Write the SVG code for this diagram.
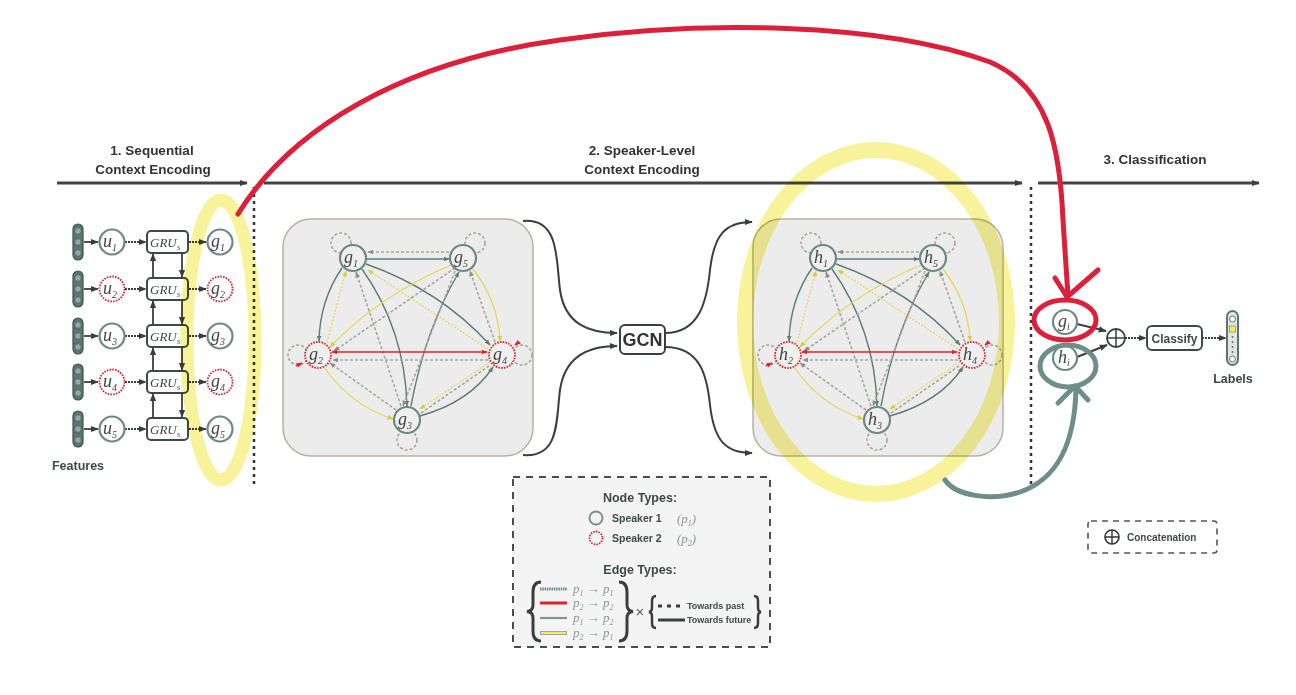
<svg xmlns="http://www.w3.org/2000/svg" xmlns:xlink="http://www.w3.org/1999/xlink" width="1296" height="695" viewBox="0 0 1296 695">
<defs>
<style>
.hd{font-family:"Liberation Sans",Arial,sans-serif;font-weight:bold;font-size:13.5px;fill:#333;text-anchor:middle}
.it{font-family:"Liberation Serif","Times New Roman",serif;font-style:italic;font-size:18px;fill:#444}
.sub{font-size:10px}
.gru{font-family:"Liberation Serif","Times New Roman",serif;font-style:italic;font-size:13px;fill:#444}
.s1{fill:#efefef;stroke:#6c8a83;stroke-width:2.2}
.s2{fill:#efefef;stroke:#d9232b;stroke-width:1.8;stroke-dasharray:1.6 1.2}
.flow{fill:none;stroke:#3a3f3d;stroke-width:2}
.et{fill:none;stroke:#5e7e77;stroke-width:1.4}
.eg{fill:none;stroke:#a9a79c;stroke-width:1.6;stroke-dasharray:3 2}
.ey{fill:none;stroke:#e2db55;stroke-width:1.3}
.eyd{fill:none;stroke:#e2db55;stroke-width:1.3;stroke-dasharray:2 1.5}
.er{fill:none;stroke:#e0232b;stroke-width:1.6}
.lg{font-family:"Liberation Sans",Arial,sans-serif;font-weight:bold;fill:#3f4a47}
.pt{font-family:"Liberation Serif","Times New Roman",serif;font-style:italic;font-size:13px;fill:#8d9794}
.hl{fill:none;stroke:#f8f39a;mix-blend-mode:multiply}
</style>
<marker id="ad" viewBox="0 0 10 10" refX="9" refY="5" markerUnits="userSpaceOnUse" markerWidth="8" markerHeight="8" orient="auto"><path d="M0,1 L10,5 L0,9z" fill="#3a3f3d"/></marker>
<marker id="at" viewBox="0 0 10 10" refX="9" refY="5" markerUnits="userSpaceOnUse" markerWidth="6" markerHeight="6" orient="auto-start-reverse"><path d="M0,1 L10,5 L0,9z" fill="#5e7e77"/></marker>
<marker id="ag" viewBox="0 0 10 10" refX="9" refY="5" markerUnits="userSpaceOnUse" markerWidth="6" markerHeight="6" orient="auto-start-reverse"><path d="M0,1 L10,5 L0,9z" fill="#8f8d82"/></marker>
<marker id="ay" viewBox="0 0 10 10" refX="9" refY="5" markerUnits="userSpaceOnUse" markerWidth="6" markerHeight="6" orient="auto-start-reverse"><path d="M0,1 L10,5 L0,9z" fill="#d6ce3e"/></marker>
<marker id="ar" viewBox="0 0 10 10" refX="9" refY="5" markerUnits="userSpaceOnUse" markerWidth="6" markerHeight="6" orient="auto-start-reverse"><path d="M0,1 L10,5 L0,9z" fill="#e0232b"/></marker>
<g id="panel">
<rect x="283" y="219" width="250" height="237" rx="28" fill="#ececec" stroke="#b8b2a6" stroke-width="1.5"/>
<circle cx="341" cy="243" r="10" class="eg"/>
<circle cx="475" cy="243" r="10" class="eg"/>
<circle cx="298" cy="355" r="10" class="eg"/>
<circle cx="522" cy="355" r="10" class="eg"/>
<circle cx="407" cy="440" r="10" class="eg"/>
<path d="M296,366 L302,363" class="er" marker-end="url(#ar)"/>
<path d="M519,342 L515,345" class="er" marker-end="url(#ar)"/>
<path d="M449,252 L368,252" class="eg" marker-end="url(#ag)"/>
<path d="M367,259 L449,259" class="et" marker-end="url(#at)"/>
<path d="M342,268 Q320,300 319,341" class="et" marker-end="url(#at)"/>
<path d="M327,342 L346,271" class="eyd" marker-end="url(#ay)"/>
<path d="M401,406 L356,272" class="eg" marker-end="url(#ag)"/>
<path d="M362,269 Q405,330 407,406" class="et" marker-end="url(#at)"/>
<path d="M366,264 Q440,290 490,345" class="et" marker-end="url(#at)"/>
<path d="M488,349 L368,270" class="eyd" marker-end="url(#ay)"/>
<path d="M451,265 Q380,295 330,347" class="ey" marker-end="url(#ay)"/>
<path d="M455,268 L334,351" class="eg" marker-end="url(#ag)"/>
<path d="M411,406 Q425,330 459,272" class="et" marker-end="url(#at)"/>
<path d="M455,271 L403,406" class="eg" marker-end="url(#ag)"/>
<path d="M472,268 Q498,300 500,341" class="ey" marker-end="url(#ay)"/>
<path d="M495,342 L470,271" class="eg" marker-end="url(#ag)"/>
<path d="M332,352 L487,352" class="er" marker-start="url(#ar)" marker-end="url(#ar)"/>
<path d="M488,360 L333,360" class="eg" marker-end="url(#ag)"/>
<path d="M324,367 Q350,405 393,419" class="ey" marker-end="url(#ay)"/>
<path d="M396,410 L330,363" class="eg" marker-end="url(#ag)"/>
<path d="M420,416 Q470,402 493,367" class="et" marker-end="url(#at)"/>
<path d="M490,362 L420,409" class="eyd" marker-end="url(#ay)"/>
<path d="M421,413 L489,366" class="eg"/>
</g>
</defs>

<g id="headers">
<text class="hd" x="152" y="155">1. Sequential</text>
<text class="hd" x="153" y="174">Context Encoding</text>
<text class="hd" x="642" y="155">2. Speaker-Level</text>
<text class="hd" x="642" y="174">Context Encoding</text>
<text class="hd" x="1155" y="164">3. Classification</text>
</g>

<g id="connectors">
<path d="M57,183 L247,183" stroke="#444" stroke-width="3" fill="none" marker-end="url(#ad)"/>
<path d="M264,183 L1022,183" stroke="#444" stroke-width="3" fill="none" marker-end="url(#ad)"/>
<path d="M1038,183 L1259,183" stroke="#444" stroke-width="3" fill="none" marker-end="url(#ad)"/>
<path d="M254,187 L254,486" stroke="#333" stroke-width="2.5" stroke-dasharray="3 4"/>
<path d="M1031,187 L1031,485" stroke="#333" stroke-width="2.5" stroke-dasharray="3 4"/>
<g stroke="#3a3f3d" stroke-width="1.8" fill="none">
<path d="M84,242 L98,242" marker-end="url(#ad)"/>
<path d="M84,289 L98,289" marker-end="url(#ad)"/>
<path d="M84,336 L98,336" marker-end="url(#ad)"/>
<path d="M84,382 L98,382" marker-end="url(#ad)"/>
<path d="M84,429 L98,429" marker-end="url(#ad)"/>
<g stroke-dasharray="2 1">
<path d="M125,242 L146,242" marker-end="url(#ad)"/>
<path d="M125,289 L146,289" marker-end="url(#ad)"/>
<path d="M125,336 L146,336" marker-end="url(#ad)"/>
<path d="M125,382 L146,382" marker-end="url(#ad)"/>
<path d="M125,429 L146,429" marker-end="url(#ad)"/>
<path d="M189,242 L206,242" marker-end="url(#ad)"/>
<path d="M189,289 L206,289" marker-end="url(#ad)"/>
<path d="M189,336 L206,336" marker-end="url(#ad)"/>
<path d="M189,382 L206,382" marker-end="url(#ad)"/>
<path d="M189,429 L206,429" marker-end="url(#ad)"/>
</g>
<path d="M153,277 L153,254" marker-end="url(#ad)"/>
<path d="M153,324 L153,301" marker-end="url(#ad)"/>
<path d="M153,370 L153,348" marker-end="url(#ad)"/>
<path d="M153,417 L153,394" marker-end="url(#ad)"/>
<path d="M182,254 L182,277" marker-end="url(#ad)"/>
<path d="M182,301 L182,324" marker-end="url(#ad)"/>
<path d="M182,348 L182,370" marker-end="url(#ad)"/>
<path d="M182,394 L182,417" marker-end="url(#ad)"/>
</g>
<path class="flow" d="M523,221 C560,218 556,260 560,290 C565,325 590,333 617,333" marker-end="url(#ad)"/>
<path class="flow" d="M523,455 C560,458 556,420 560,390 C565,355 590,346 617,346" marker-end="url(#ad)"/>
<path class="flow" d="M665,333 C700,333 707,300 710,270 C714,235 725,222 752,222" marker-end="url(#ad)"/>
<path class="flow" d="M665,347 C700,347 707,375 710,405 C714,440 725,453 752,453" marker-end="url(#ad)"/>
<path class="flow" stroke-width="1.5" d="M1077,324 L1106,331" marker-end="url(#ad)"/>
<path class="flow" stroke-width="1.5" d="M1077,357 L1107,345" marker-end="url(#ad)"/>
<path class="flow" stroke-width="1.5" stroke-dasharray="2 1" d="M1125,338 L1146,338" marker-end="url(#ad)"/>
<path class="flow" stroke-width="1.5" stroke-dasharray="2 1" d="M1202,338 L1226,338" marker-end="url(#ad)"/>
</g>

<g id="graph1"><use xlink:href="#panel" href="#panel"/></g>
<g id="graph2"><use xlink:href="#panel" href="#panel" transform="translate(470,0)"/></g>

<g id="features" fill="#5c7771" stroke="#3f524e" stroke-width="1.2">
<rect x="73" y="224" width="10" height="36" rx="5"/><rect x="73" y="271" width="10" height="36" rx="5"/><rect x="73" y="318" width="10" height="36" rx="5"/><rect x="73" y="364" width="10" height="36" rx="5"/><rect x="73" y="411" width="10" height="36" rx="5"/>
<g fill="#93a8a3" stroke="#4c625d" stroke-width="0.8">
<circle cx="78" cy="231" r="3.3"/><circle cx="78" cy="242" r="3.3"/><circle cx="78" cy="253" r="3.3"/>
<circle cx="78" cy="278" r="3.3"/><circle cx="78" cy="289" r="3.3"/><circle cx="78" cy="300" r="3.3"/>
<circle cx="78" cy="325" r="3.3"/><circle cx="78" cy="336" r="3.3"/><circle cx="78" cy="347" r="3.3"/>
<circle cx="78" cy="371" r="3.3"/><circle cx="78" cy="382" r="3.3"/><circle cx="78" cy="393" r="3.3"/>
<circle cx="78" cy="418" r="3.3"/><circle cx="78" cy="429" r="3.3"/><circle cx="78" cy="440" r="3.3"/>
</g>
</g>
<text class="lg" x="78" y="470" font-size="12.5" text-anchor="middle">Features</text>

<g id="u1"><circle cx="112" cy="242" r="12.5" class="s1" style="fill:#fff"/><text class="it" x="103" y="247">u<tspan class="sub" dy="4">1</tspan></text></g>
<g id="u2"><circle cx="112" cy="289" r="12.5" class="s2" style="fill:#fff"/><text class="it" x="103" y="294">u<tspan class="sub" dy="4">2</tspan></text></g>
<g id="u3"><circle cx="112" cy="336" r="12.5" class="s1" style="fill:#fff"/><text class="it" x="103" y="341">u<tspan class="sub" dy="4">3</tspan></text></g>
<g id="u4"><circle cx="112" cy="382" r="12.5" class="s2" style="fill:#fff"/><text class="it" x="103" y="387">u<tspan class="sub" dy="4">4</tspan></text></g>
<g id="u5"><circle cx="112" cy="429" r="12.5" class="s1" style="fill:#fff"/><text class="it" x="103" y="434">u<tspan class="sub" dy="4">5</tspan></text></g>

<g id="gru1"><rect x="147" y="231" width="41" height="22" rx="4" fill="#fff" stroke="#3f4a47" stroke-width="2"/><text class="gru" x="150" y="246.5">GRU<tspan dy="3" font-size="7">S</tspan></text></g>
<g id="gru2"><rect x="147" y="278" width="41" height="22" rx="4" fill="#fff" stroke="#3f4a47" stroke-width="2"/><text class="gru" x="150" y="293.5">GRU<tspan dy="3" font-size="7">S</tspan></text></g>
<g id="gru3"><rect x="147" y="325" width="41" height="22" rx="4" fill="#fff" stroke="#3f4a47" stroke-width="2"/><text class="gru" x="150" y="340.5">GRU<tspan dy="3" font-size="7">S</tspan></text></g>
<g id="gru4"><rect x="147" y="371" width="41" height="22" rx="4" fill="#fff" stroke="#3f4a47" stroke-width="2"/><text class="gru" x="150" y="386.5">GRU<tspan dy="3" font-size="7">S</tspan></text></g>
<g id="gru5"><rect x="147" y="418" width="41" height="22" rx="4" fill="#fff" stroke="#3f4a47" stroke-width="2"/><text class="gru" x="150" y="433.5">GRU<tspan dy="3" font-size="7">S</tspan></text></g>

<g id="gs1"><circle cx="220" cy="242" r="12.5" class="s1" style="fill:#fff"/><text class="it" x="211" y="247">g<tspan class="sub" dy="4">1</tspan></text></g>
<g id="gs2"><circle cx="220" cy="289" r="12.5" class="s2" style="fill:#fff"/><text class="it" x="211" y="294">g<tspan class="sub" dy="4">2</tspan></text></g>
<g id="gs3"><circle cx="220" cy="336" r="12.5" class="s1" style="fill:#fff"/><text class="it" x="211" y="341">g<tspan class="sub" dy="4">3</tspan></text></g>
<g id="gs4"><circle cx="220" cy="382" r="12.5" class="s2" style="fill:#fff"/><text class="it" x="211" y="387">g<tspan class="sub" dy="4">4</tspan></text></g>
<g id="gs5"><circle cx="220" cy="429" r="12.5" class="s1" style="fill:#fff"/><text class="it" x="211" y="434">g<tspan class="sub" dy="4">5</tspan></text></g>

<g id="g1"><circle cx="353" cy="258" r="13" class="s1"/><text class="it" x="344" y="263">g<tspan class="sub" dy="4">1</tspan></text></g>
<g id="g5"><circle cx="463" cy="258" r="13" class="s1"/><text class="it" x="454" y="263">g<tspan class="sub" dy="4">5</tspan></text></g>
<g id="g2"><circle cx="318" cy="355" r="13" class="s2"/><text class="it" x="309" y="360">g<tspan class="sub" dy="4">2</tspan></text></g>
<g id="g4"><circle cx="502" cy="355" r="13" class="s2"/><text class="it" x="493" y="360">g<tspan class="sub" dy="4">4</tspan></text></g>
<g id="g3"><circle cx="407" cy="420" r="13" class="s1"/><text class="it" x="398" y="425">g<tspan class="sub" dy="4">3</tspan></text></g>
<g id="h1"><circle cx="823" cy="258" r="13" class="s1"/><text class="it" x="814" y="263">h<tspan class="sub" dy="4">1</tspan></text></g>
<g id="h5"><circle cx="933" cy="258" r="13" class="s1"/><text class="it" x="924" y="263">h<tspan class="sub" dy="4">5</tspan></text></g>
<g id="h2"><circle cx="788" cy="355" r="13" class="s2"/><text class="it" x="779" y="360">h<tspan class="sub" dy="4">2</tspan></text></g>
<g id="h4"><circle cx="972" cy="355" r="13" class="s2"/><text class="it" x="963" y="360">h<tspan class="sub" dy="4">4</tspan></text></g>
<g id="h3"><circle cx="877" cy="420" r="13" class="s1"/><text class="it" x="868" y="425">h<tspan class="sub" dy="4">3</tspan></text></g>

<g id="gcn"><rect x="620" y="325" width="45" height="29" rx="5" fill="#fff" stroke="#3a3f3d" stroke-width="2"/><text x="642.5" y="346" font-family="Liberation Sans,Arial,sans-serif" font-weight="bold" font-size="18" fill="#333" text-anchor="middle">GCN</text></g>

<g id="gi"><circle cx="1065" cy="322" r="12" class="s1" style="fill:#fff"/><text class="it" x="1058" y="327" font-size="16">g<tspan class="sub" dy="3" font-size="9">i</tspan></text></g>
<g id="hi"><circle cx="1065" cy="358" r="12" class="s1" style="fill:#fff"/><text class="it" x="1058" y="363" font-size="16">h<tspan class="sub" dy="3" font-size="9">i</tspan></text></g>
<g id="concat"><circle cx="1116" cy="338" r="9" fill="#fff" stroke="#3a3f3d" stroke-width="1.8"/><path d="M1107,338 H1125 M1116,329 V347" stroke="#3a3f3d" stroke-width="1.5"/></g>
<g id="classify"><rect x="1147" y="326" width="55" height="24" rx="5" fill="#fff" stroke="#3f4a47" stroke-width="2"/><text class="lg" x="1174.5" y="342.5" font-size="12" text-anchor="middle">Classify</text></g>
<g id="labels"><rect x="1227" y="311" width="11" height="54" rx="5.5" fill="#dfe5e3" stroke="#5c7771" stroke-width="2"/>
<circle cx="1232.5" cy="319" r="3" fill="#fff" stroke="#5c7771"/><rect x="1229.5" y="326" width="6" height="6" fill="#f3ea55" stroke="#777" stroke-width="0.6"/>
<circle cx="1232.5" cy="337" r="0.9" fill="#666"/><circle cx="1232.5" cy="342" r="0.9" fill="#666"/><circle cx="1232.5" cy="347" r="0.9" fill="#666"/><circle cx="1232.5" cy="352" r="0.9" fill="#666"/>
<circle cx="1232.5" cy="359" r="3" fill="#fff" stroke="#5c7771"/>
<text class="lg" x="1233" y="383" font-size="12.5" text-anchor="middle">Labels</text></g>

<g id="legend">
<rect x="513" y="477" width="257" height="170" fill="#f4f4f4" stroke="#4a4f4d" stroke-width="2" stroke-dasharray="7 6"/>
<text class="lg" x="640" y="502" font-size="12.5" text-anchor="middle">Node Types:</text>
<circle cx="596" cy="518" r="6.5" fill="none" stroke="#7a928c" stroke-width="2"/>
<text class="lg" x="612" y="522" font-size="10.5">Speaker 1</text>
<text class="pt" x="677" y="523">(p<tspan font-size="8" dy="3">1</tspan><tspan dy="-3">)</tspan></text>
<circle cx="596" cy="538" r="6.5" fill="none" stroke="#d9232b" stroke-width="1.8" stroke-dasharray="1.5 1.2"/>
<text class="lg" x="612" y="542" font-size="10.5">Speaker 2</text>
<text class="pt" x="677" y="543">(p<tspan font-size="8" dy="3">2</tspan><tspan dy="-3">)</tspan></text>
<text class="lg" x="640" y="574" font-size="12.5" text-anchor="middle">Edge Types:</text>
<path d="M541,582 Q533,582 533,592 L533,605 Q533,611 527,611.5 Q533,612 533,618 L533,631 Q533,641 541,641" fill="none" stroke="#3a3f3d" stroke-width="3"/>
<path d="M619,582 Q627,582 627,592 L627,605 Q627,611 633,611.5 Q627,612 627,618 L627,631 Q627,641 619,641" fill="none" stroke="#3a3f3d" stroke-width="3"/>
<path d="M540,589 H567" stroke="#6d8b85" stroke-width="3" stroke-dasharray="1.5 0.8"/>
<path d="M540,603 H567" stroke="#e0232b" stroke-width="3"/>
<path d="M540,618 H567" stroke="#7d9891" stroke-width="2.2"/>
<path d="M540,633 H567" stroke="#a9a79c" stroke-width="4"/><path d="M541,633 H566" stroke="#f0e86a" stroke-width="2"/>
<text class="pt" x="573" y="593">p<tspan font-size="8" dy="2.5">1</tspan><tspan dy="-2.5"> → p</tspan><tspan font-size="8" dy="2.5">1</tspan></text>
<text class="pt" x="573" y="607">p<tspan font-size="8" dy="2.5">2</tspan><tspan dy="-2.5"> → p</tspan><tspan font-size="8" dy="2.5">2</tspan></text>
<text class="pt" x="573" y="622">p<tspan font-size="8" dy="2.5">1</tspan><tspan dy="-2.5"> → p</tspan><tspan font-size="8" dy="2.5">2</tspan></text>
<text class="pt" x="573" y="637">p<tspan font-size="8" dy="2.5">2</tspan><tspan dy="-2.5"> → p</tspan><tspan font-size="8" dy="2.5">1</tspan></text>
<text x="640" y="617" font-family="Liberation Sans,Arial,sans-serif" font-size="15" fill="#555" text-anchor="middle">×</text>
<path d="M656,596 Q652,596 652,601 L652,608 Q652,611.5 649,612 Q652,612.5 652,616 L652,623 Q652,628 656,628" fill="none" stroke="#3a3f3d" stroke-width="2.5"/>
<path d="M754,596 Q758,596 758,601 L758,608 Q758,611.5 761,612 Q758,612.5 758,616 L758,623 Q758,628 754,628" fill="none" stroke="#3a3f3d" stroke-width="2.5"/>
<path d="M658,606 H684" stroke="#3a3f3d" stroke-width="3" stroke-dasharray="4 5"/>
<path d="M658,620 H685" stroke="#3a3f3d" stroke-width="3"/>
<text class="lg" x="687" y="609" font-size="9">Towards past</text>
<text class="lg" x="687" y="623" font-size="9">Towards future</text>
</g>

<g id="concat-legend">
<rect x="1088" y="521" width="129" height="32" rx="3" fill="none" stroke="#555" stroke-width="1.6" stroke-dasharray="6 5"/>
<circle cx="1112" cy="537" r="7" fill="none" stroke="#333" stroke-width="1.6"/><path d="M1105,537 H1119 M1112,530 V544" stroke="#333" stroke-width="1.4"/>
<text class="lg" x="1127" y="541" font-size="10">Concatenation</text>
</g>

<g id="highlights">
<ellipse class="hl" cx="221" cy="340" rx="34" ry="140" stroke-width="13"/>
<ellipse class="hl" cx="876" cy="322" rx="131" ry="172" stroke-width="16"/>
</g>
<g id="annotations" fill="none" stroke-linecap="round" stroke-linejoin="round">
<path d="M238,214 C290,130 400,62 560,40 C700,20 880,22 990,62 C1050,88 1060,150 1063,220 L1068,296" stroke="#dc1f3b" stroke-width="5"/>
<path d="M1055,278 L1067,297 L1098,270" stroke="#dc1f3b" stroke-width="5"/>
<ellipse cx="1065" cy="320" rx="31" ry="20" stroke="#dc1f3b" stroke-width="5"/>
<ellipse cx="1068" cy="366" rx="28" ry="21" stroke="#6e8f89" stroke-width="5"/>
<path d="M945,480 C955,495 990,502 1020,492 C1060,478 1075,440 1076,388" stroke="#6e8f89" stroke-width="5"/>
<path d="M1058,403 L1075,386 L1088,400" stroke="#6e8f89" stroke-width="5"/>
</g>
</svg>
